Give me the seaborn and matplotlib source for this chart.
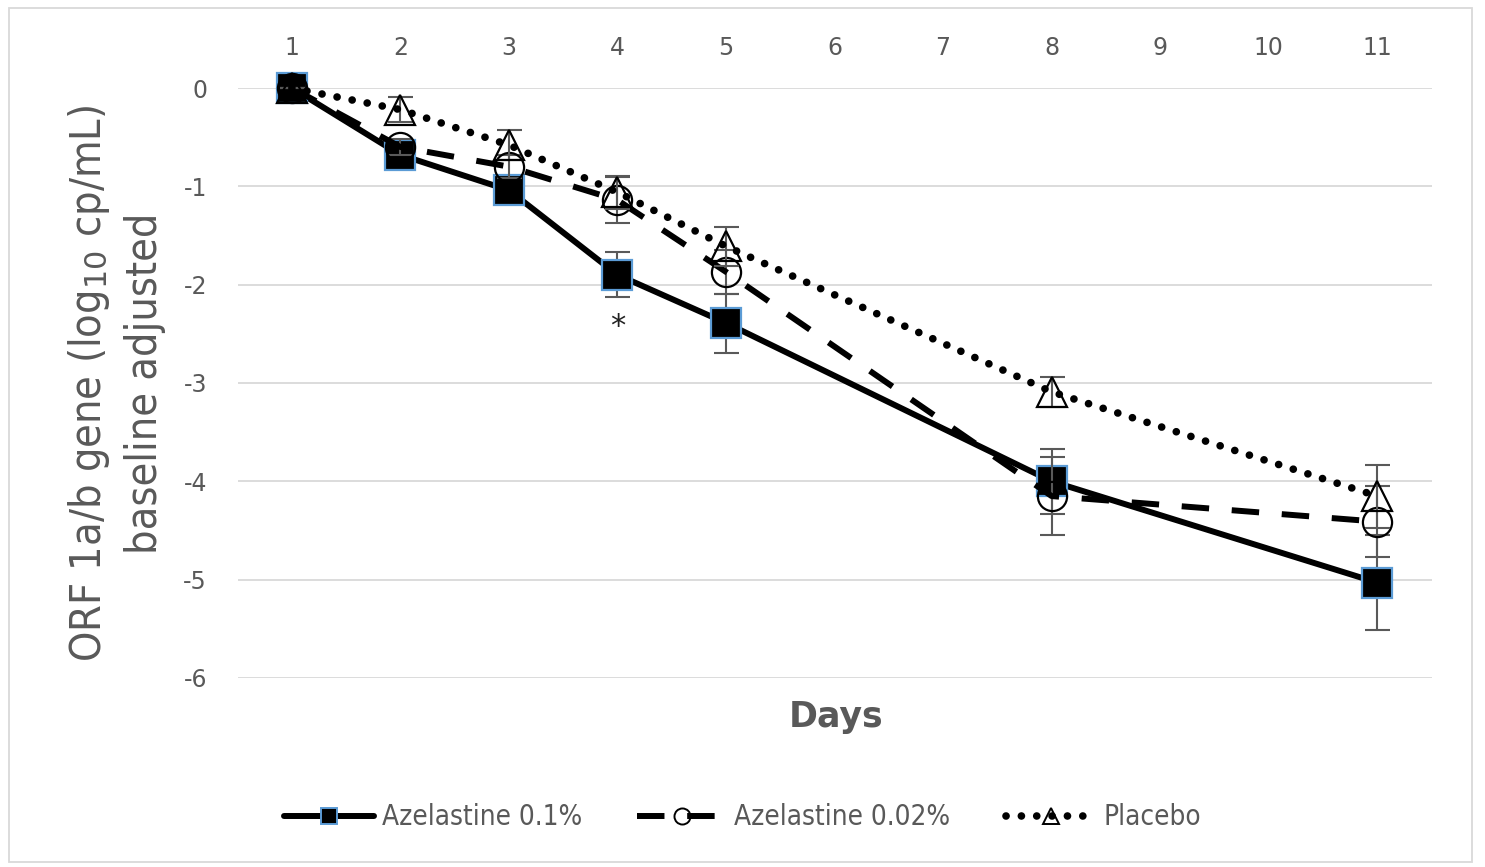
import numpy as np
import pandas as pd
import matplotlib
matplotlib.use('Agg')
import matplotlib.pyplot as plt
import seaborn as sns
from matplotlib.lines import Line2D
from matplotlib.patches import Rectangle
from matplotlib import font_manager

# data
days = [1, 2, 3, 4, 5, 8, 11]
aze_01 = [0.0, -0.68, -1.04, -1.90, -2.39, -4.00, -5.03]
aze_01_err = [0.0, 0.06, 0.14, 0.23, 0.30, 0.33, 0.48]
aze_002 = [0.0, -0.60, -0.80, -1.14, -1.87, -4.15, -4.41]
aze_002_err = [0.0, 0.08, 0.12, 0.23, 0.22, 0.40, 0.36]
placebo = [0.0, -0.22, -0.58, -1.06, -1.61, -3.09, -4.15]
placebo_err = [0.0, 0.13, 0.15, 0.17, 0.20, 0.15, 0.32]
series_names = ['Azelastine 0.1%', 'Azelastine 0.02%', 'Placebo']
x_ticks = list(range(1, 12))
y_ticks = [0, -1, -2, -3, -4, -5, -6]

sns.set_theme(style='white')
plt.rcParams['font.family'] = ['DejaVu Sans']
plt.rcParams['axes.unicode_minus'] = False
gray = '#595959'

# regular condensed face for the label text, if there is one
cond = [f.fname for f in font_manager.fontManager.ttflist
        if f.fname.endswith('DejaVuSansCondensed.ttf')]
narrow_prop = font_manager.FontProperties(fname=cond[0]) if cond else None

fig = plt.figure(figsize=(14.85, 8.67), dpi=100)
ax = fig.add_axes([0.160, 0.218, 0.804, 0.6805])

styles = [
    dict(marker='s', markersize=22, markerfacecolor='black', markeredgecolor='#5B9BD5',
         linestyle='-', linewidth=4.3),
    dict(marker='o', markersize=21, markerfacecolor='none', markeredgecolor='black',
         linestyle=(0, (4.6, 3.8)), dash_capstyle='butt', linewidth=4.3),
    dict(marker='^', markersize=22, markerfacecolor='none', markeredgecolor='black',
         linestyle=(0, (0.01, 2.0)), dash_capstyle='round', linewidth=5.5),
]
vals = [aze_01, aze_002, placebo]
errs = [aze_01_err, aze_002_err, placebo_err]

for i in range(3):
    df = pd.DataFrame({'day': days, 'value': vals[i]})
    ax.errorbar(days, vals[i], yerr=errs[i], fmt='none', ecolor=gray, elinewidth=1.5,
                capsize=9, capthick=1.5, zorder=3 + i, clip_on=False)
    sns.lineplot(data=df, x='day', y='value', ax=ax, color='black',
                 markeredgewidth=1.6, zorder=3 + i, clip_on=False, **styles[i])

ax.set_xlim(0.5, 11.5)
ax.set_ylim(-6, 0)
ax.set_xticks(x_ticks)
ax.set_yticks(y_ticks)
ax.xaxis.tick_top()
ax.tick_params(axis='x', length=0, pad=20, labelsize=17, labelcolor=gray)
ax.tick_params(axis='y', length=0, pad=22, labelsize=17, labelcolor=gray)
ax.grid(axis='y', color='#D9D9D9', linewidth=1.3)
ax.grid(axis='x', visible=False)
for s in ax.spines.values():
    s.set_visible(False)

ax.set_xlabel('')
ax.set_ylabel('')
ax.text(4, -2.43, '*', ha='center', va='center', fontsize=22, color='#222222')

ylab = fig.text(0.078, 0.558, 'ORF 1a/b gene (log$_{10}$ cp/mL)\nbaseline adjusted',
                rotation=90, ha='center', va='center', fontsize=28, color=gray,
                linespacing=1.35)
if narrow_prop is not None:
    ylab.set_fontproperties(narrow_prop)
    ylab.set_fontsize(31)
fig.text(0.563, 0.173, 'Days', ha='center', va='center', fontsize=25,
         fontweight='bold', color=gray)

handles = []
for st in styles:
    st2 = dict(st)
    st2['markersize'] = st['markersize'] * 0.55
    handles.append(Line2D([0], [0], color='black', markeredgewidth=1.4, **st2))
leg = fig.legend(handles, series_names, loc='center', bbox_to_anchor=(0.5, 0.058),
                 ncol=3, frameon=False, fontsize=18, handlelength=3.6,
                 columnspacing=2.2, handletextpad=0.3)
for t in leg.get_texts():
    t.set_color(gray)
    if narrow_prop is not None:
        t.set_fontproperties(narrow_prop)
        t.set_fontsize(20)

fig.patches.append(Rectangle((0.006, 0.006), 0.985, 0.985, transform=fig.transFigure,
                             fill=False, edgecolor='#D9D9D9', linewidth=1.3))

fig.savefig('out.png', dpi=100)
